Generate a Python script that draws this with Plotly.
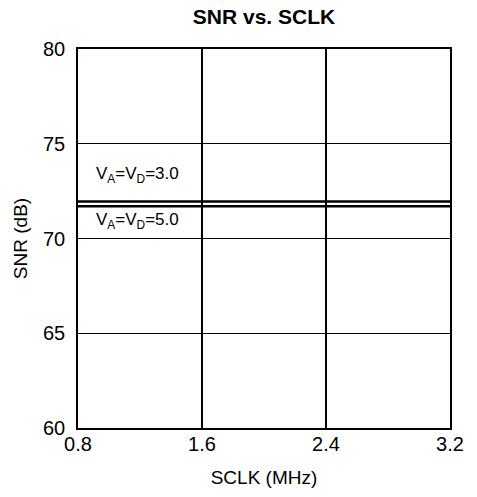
import plotly.graph_objects as go

sclk = [0.8, 3.2]
snr_3v = [71.95, 71.95]
snr_5v = [71.7, 71.7]
x_ticks = [0.8, 1.6, 2.4, 3.2]
y_ticks = [60, 65, 70, 75, 80]

W, H = 477, 497
L, T, R_EDGE, B_EDGE = 78, 49, 450, 428

fig = go.Figure()
fig.add_trace(go.Scatter(x=sclk, y=snr_3v, mode="lines", line=dict(color="black", width=2.5), showlegend=False))
fig.add_trace(go.Scatter(x=sclk, y=snr_5v, mode="lines", line=dict(color="black", width=2.5), showlegend=False))

font = "Liberation Sans, Arial, sans-serif"
fig.add_annotation(x=0.9, y=73.35, xref="x", yref="y", text="V<sub>A</sub>=V<sub>D</sub>=3.0",
                   showarrow=False, xanchor="left", font=dict(family=font, size=17, color="black"))
fig.add_annotation(x=0.9, y=70.95, xref="x", yref="y", text="V<sub>A</sub>=V<sub>D</sub>=5.0",
                   showarrow=False, xanchor="left", font=dict(family=font, size=17, color="black"))

fig.update_layout(
    width=W, height=H,
    margin=dict(l=L, r=W - R_EDGE, t=T, b=H - B_EDGE),
    paper_bgcolor="white", plot_bgcolor="white",
    font=dict(family=font, color="black"),
    title=dict(text="<b>SNR vs. SCLK</b>", x=(L + R_EDGE) / 2 / W, xanchor="center",
               y=1 - 17 / H, yanchor="middle", yref="container",
               font=dict(size=21, family=font, color="black")),
    xaxis=dict(range=[0.8, 3.2], tickvals=x_ticks, ticktext=[f"{v:.1f}" for v in x_ticks],
               showgrid=True, gridcolor="black", gridwidth=1.5, zeroline=False,
               showline=True, linecolor="black", linewidth=1.5, mirror=True,
               ticks="", ticklabelstandoff=-3, tickfont=dict(size=20), automargin=False,
               title=dict(text="SCLK (MHz)", font=dict(size=19), standoff=17)),
    yaxis=dict(range=[60, 80], tickvals=y_ticks,
               showgrid=True, gridcolor="black", gridwidth=1.2, zeroline=False,
               showline=True, linecolor="black", linewidth=1.5, mirror=True,
               ticks="", ticklabelstandoff=7, tickfont=dict(size=20), automargin=False,
               title=dict(text="SNR (dB)", font=dict(size=19), standoff=10)),
)
fig.write_html("out.html", config={"displayModeBar": False},
               post_script="document.body.style.margin='0px';")
